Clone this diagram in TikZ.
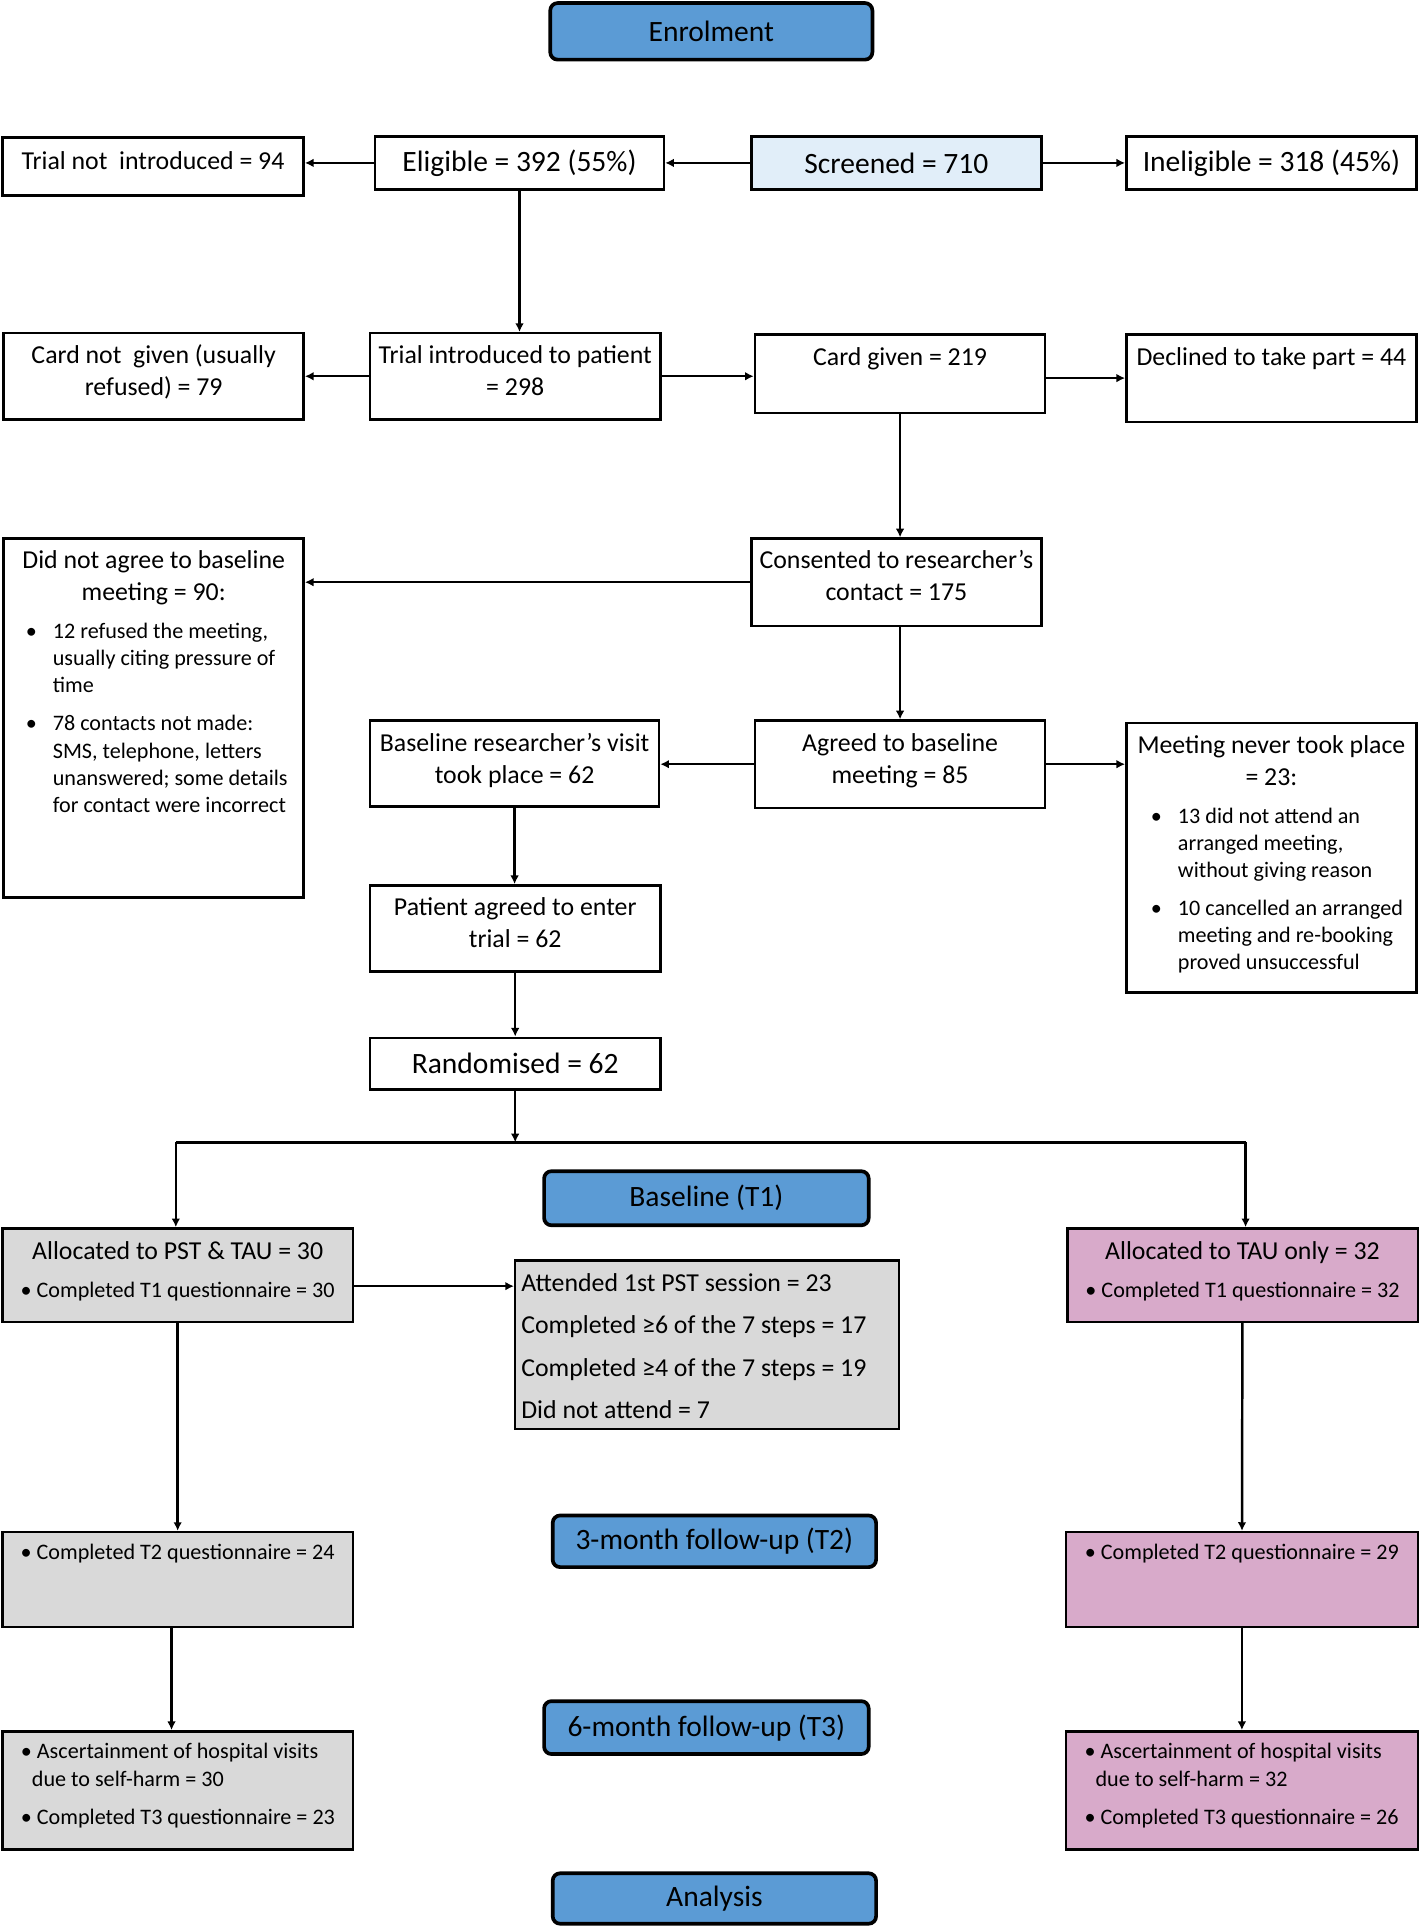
\documentclass[tikz,border=0pt]{standalone}
\usepackage{fontspec}
\setmainfont{Carlito}
\usetikzlibrary{arrows.meta}

\definecolor{headblue}{HTML}{5B9BD5}
\definecolor{scrblue}{HTML}{E1EEF9}
\definecolor{armgrey}{HTML}{D9D9D9}
\definecolor{armpink}{HTML}{D8AACA}

\newcommand{\fsbig}{\fontsize{12}{14.5}\selectfont}
\newcommand{\fsmid}{\fontsize{10.5}{13}\selectfont}
\newcommand{\fssmall}{\fontsize{9}{11}\selectfont}
\newcommand{\dotpar}[2][21pt]{\par{\raggedright\leftskip=#1\fssmall\noindent\llap{\textbullet\hspace{6.5pt}}#2\par}}

\tikzset{
	box/.style={draw, line width=1pt, inner sep=0pt, align=flush center, font=\fsmid},
	head/.style={box, line width=1.5pt, rounded corners=3pt, fill=headblue, font=\fsbig},
	arr/.style={line width=1pt, -{Latex[length=3.5pt, width=3.5pt]}},
	link/.style={line width=1pt},
}

\begin{document}
\begin{tikzpicture}[x=0.5pt, y=-0.5pt]
	\useasboundingbox (0,0) rectangle (1154,1568);
	
	\node[head, minimum width=131pt, minimum height=23pt] (enrol) at (578.5,25.5) {Enrolment};
	\node[head, minimum width=132pt, minimum height=22pt] (base) at (574.5,974.5) {Baseline (T1)};
	\node[head, minimum width=131.5pt, minimum height=21pt] (fu3) at (581,1253.5) {3-month follow-up (T2)};
	\node[head, minimum width=132pt, minimum height=21.5pt] (fu6) at (574.5,1405) {6-month follow-up (T3)};
	\node[head, minimum width=131.5pt, minimum height=20.5pt] (ana) at (581,1544) {Analysis};
	
	\node[box, font=\fsbig, text width=118pt, minimum height=21.5pt, fill=scrblue] (scr) at (729,132.5) {Screened = 710};
	\node[box, font=\fsbig, text width=117.5pt, minimum height=21.5pt] (elig) at (422.5,132.5) {Eligible = 392 (55\%)};
	\node[box, font=\fsbig, text width=118pt, minimum height=21.5pt] (inel) at (1034,132.5) {Ineligible = 318 (45\%)};
	\node[box, text width=122.5pt, text height=12.75pt, text depth=10.75pt] (tni) at (124.5,135.5) {Trial not\ \ introduced = 94};
	
	\node[box, text width=122pt, text height=12.25pt, text depth=22.75pt] (cng) at (125,306) {Card not\ \ given (usually\\ refused) = 79};
	\node[box, text width=118pt, text height=12.25pt, text depth=22.75pt] (tip) at (419,306) {Trial introduced to patient\\ = 298};
	\node[box, text width=118pt, text height=12.75pt, text depth=19.25pt] (cg) at (732,304) {Card given = 219};
	\node[box, text width=118pt, text height=12.75pt, text depth=22.75pt] (dec) at (1034,307.5) {Declined to take part = 44};
	
	\node[box, text width=122pt, text height=12.25pt, text depth=133.75pt] (dna) at (125,584)
		{Did not agree to baseline\\ meeting = 90:\par\vspace{4.5pt}
		\dotpar[20pt]{12 refused the meeting,\\ usually citing pressure of\\ time}\vspace{4.5pt}
		\dotpar[20pt]{78 contacts not made:\\ SMS, telephone, letters\\ unanswered; some details\\ for contact were incorrect}};
	\node[box, text width=118pt, text height=12.25pt, text depth=23.25pt] (cons) at (729,473.5) {Consented to researcher’s\\ contact = 175};
	
	\node[box, text width=117.5pt, text height=12.75pt, text depth=22.25pt] (bv) at (418.5,621) {Baseline researcher’s visit\\ took place = 62};
	\node[box, text width=118pt, text height=12.75pt, text depth=22.75pt] (agr) at (732,621.5) {Agreed to baseline\\ meeting = 85};
	\node[box, text width=118pt, text height=12.25pt, text depth=97.25pt] (mnt) at (1034,697.5)
		{Meeting never took place\\ = 23:\par\vspace{4.5pt}
		\dotpar{13 did not attend an\\ arranged meeting,\\ without giving reason}\vspace{4.5pt}
		\dotpar{10 cancelled an arranged\\ meeting and re-booking\\ proved unsuccessful}};
	\node[box, text width=118pt, text height=12.25pt, text depth=22.75pt] (pat) at (419,755) {Patient agreed to enter\\ trial = 62};
	\node[box, font=\fsbig, text width=118pt, minimum height=21pt] (rand) at (419,865) {Randomised = 62};
	
	\node[box, fill=armgrey, text width=142.5pt, text height=12.75pt, text depth=25.25pt] (alpst) at (144.5,1037)
		{Allocated to PST \& TAU = 30\\[2.5pt] {\fssmall\textbullet\ Completed T1 questionnaire = 30}};
	\node[box, fill=armgrey, text width=156pt, text height=12.75pt, text depth=55.75pt] (att) at (575,1093.5)
		{\raggedright\leftskip=2.5pt\fontsize{10.5}{17.15}\selectfont Attended 1st PST session = 23\\ Completed ≥6 of the 7 steps = 17\\ Completed ≥4 of the 7 steps = 19\\ Did not attend = 7\par};
	\node[box, fill=armpink, text width=142.5pt, text height=12.75pt, text depth=25.25pt] (altau) at (1010.5,1037)
		{Allocated to TAU only = 32\\[2.5pt] {\fssmall\textbullet\ Completed T1 questionnaire = 32}};
	
	\node[box, fill=armgrey, text width=142.5pt, text height=11.25pt, text depth=27.25pt] (t2l) at (144.5,1284.5)
		{\fssmall\textbullet\ Completed T2 questionnaire = 24};
	\node[box, fill=armpink, text width=143pt, text height=11.25pt, text depth=27.25pt] (t2r) at (1010,1284.5)
		{\fssmall\textbullet\ Completed T2 questionnaire = 29};
	\node[box, fill=armgrey, text width=142.5pt, text height=11.25pt, text depth=36.75pt] (t3l) at (144.5,1456)
		{\fssmall\raggedright\leftskip=7.5pt \textbullet\ Ascertainment of hospital visits\\ \hspace*{4.5pt}due to self-harm = 30\\[4.5pt] \textbullet\ Completed T3 questionnaire = 23\par};
	\node[box, fill=armpink, text width=143pt, text height=11.25pt, text depth=36.75pt] (t3r) at (1010,1456)
		{\fssmall\raggedright\leftskip=7.5pt \textbullet\ Ascertainment of hospital visits\\ \hspace*{4.5pt}due to self-harm = 32\\[4.5pt] \textbullet\ Completed T3 questionnaire = 26\par};
	
	\coordinate (split) at (418,929);
	\coordinate (lsplit) at (143,929);
	\coordinate (rsplit) at (1013,929);
	
	\draw[arr] (scr) -- (elig);
	\draw[arr] (scr) -- (inel);
	\draw[arr] (elig.west) -- (elig.west -| tni.east);
	\draw[arr] (elig.south) -- (elig.south |- tip.north);
	\draw[arr] (tip) -- (cng);
	\draw[arr] (tip.east) -- (tip.east -| cg.west);
	\draw[arr] (dec.west -| cg.east) -- (dec.west);
	\draw[arr] (cg.south) -- (cg.south |- cons.north);
	\draw[arr] (cons.west) -- (cons.west -| dna.east);
	\draw[arr] (agr.north |- cons.south) -- (agr.north);
	\draw[arr] (agr.west) -- (agr.west -| bv.east);
	\draw[arr] (agr.east) -- (agr.east -| mnt.west);
	\draw[arr] (bv.south) -- (bv.south |- pat.north);
	\draw[arr] (pat) -- (rand);
	\draw[arr] (rand.south) -- (rand.south |- split);
	\draw[link] (lsplit) -- (rsplit);
	\draw[arr] (lsplit) -- (lsplit |- alpst.north);
	\draw[arr] (rsplit) -- (rsplit |- altau.north);
	\draw[arr] ([yshift=-4.5pt]alpst.east) -- ([yshift=-4.5pt]alpst.east -| att.west);
	\draw[arr] (alpst.south) -- (alpst.south |- t2l.north);
	\draw[arr] ([xshift=-2.5pt]t2l.south) -- ([xshift=-2.5pt]t2l.south |- t3l.north);
	\draw[arr] (altau) -- (t2r);
	\draw[arr] (t2r) -- (t3r);
	
\end{tikzpicture}
\end{document}
